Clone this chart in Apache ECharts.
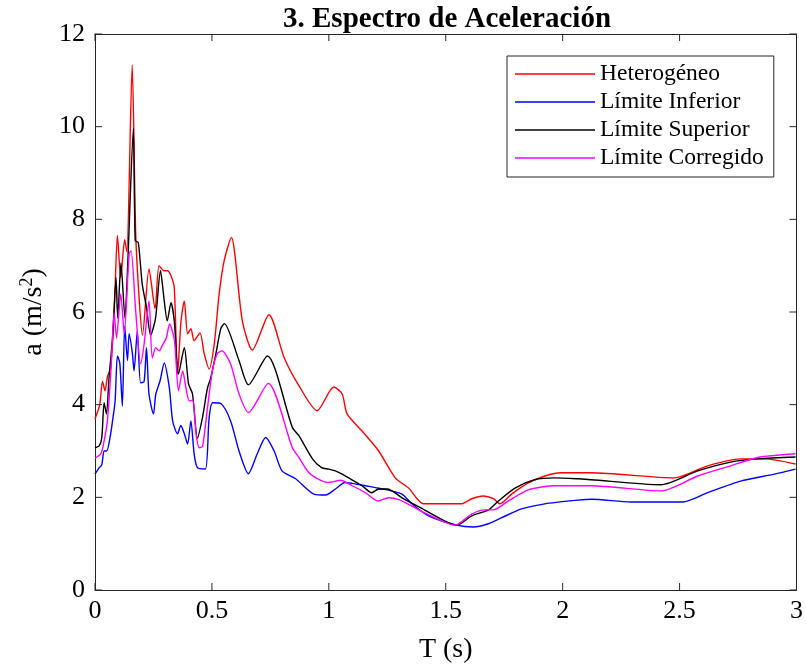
<!DOCTYPE html>
<html>
<head>
<meta charset="utf-8">
<script src="https://cdn.jsdelivr.net/npm/echarts@6/dist/echarts.min.js"></script>
<style>html,body{margin:0;padding:0;background:#fff}#c{width:806px;height:670px}</style>
</head>
<body>
<div id="c"></div>
<script>
var titleText = '3. Espectro de Aceleración';
var seriesNames = ['Heterogéneo', 'Límite Inferior', 'Límite Superior', 'Límite Corregido'];
var xTicks = [0, 0.5, 1, 1.5, 2, 2.5, 3];
var yTicks = [0, 2, 4, 6, 8, 10, 12];

var redT = [0, 0.02, 0.032, 0.043, 0.053, 0.067, 0.082, 0.096, 0.11, 0.127, 0.136, 0.159, 0.174, 0.19, 0.203, 0.231, 0.257, 0.274, 0.295, 0.31, 0.325, 0.339, 0.353, 0.368, 0.382, 0.396, 0.41, 0.424, 0.449, 0.467, 0.488, 0.51, 0.531, 0.552, 0.583, 0.63, 0.673, 0.744, 0.81, 0.872, 0.95, 1.021, 1.057, 1.078, 1.142, 1.213, 1.284, 1.341, 1.405, 1.498, 1.568, 1.611, 1.661, 1.704, 1.732, 1.782, 1.853, 1.924, 1.994, 2.122, 2.478, 2.62, 2.761, 2.862, 2.996];
var redA = [3.69, 4.0, 4.5, 4.3, 4.6, 4.8, 5.96, 7.65, 6.74, 7.56, 7.3, 11.33, 7.7, 6.2, 5.5, 6.93, 6.07, 7.0, 6.89, 6.89, 6.78, 6.52, 4.66, 5.81, 6.24, 5.53, 5.64, 5.38, 5.55, 5.1, 4.77, 5.31, 6.39, 7.1, 7.61, 5.81, 5.18, 5.94, 5.0, 4.41, 3.87, 4.38, 4.23, 3.8, 3.43, 3.0, 2.42, 2.2, 1.86, 1.86, 1.86, 1.97, 2.03, 1.97, 1.86, 2.07, 2.31, 2.46, 2.53, 2.53, 2.42, 2.68, 2.83, 2.83, 2.72];

var blueT = [0, 0.018, 0.029, 0.039, 0.05, 0.064, 0.075, 0.086, 0.096, 0.106, 0.117, 0.127, 0.139, 0.146, 0.16, 0.167, 0.181, 0.195, 0.21, 0.22, 0.231, 0.25, 0.26, 0.278, 0.296, 0.318, 0.332, 0.353, 0.367, 0.382, 0.396, 0.41, 0.424, 0.438, 0.472, 0.488, 0.503, 0.539, 0.58, 0.616, 0.656, 0.694, 0.73, 0.766, 0.8, 0.858, 0.936, 0.986, 1.028, 1.07, 1.1, 1.156, 1.2, 1.25, 1.313, 1.355, 1.426, 1.547, 1.618, 1.682, 1.739, 1.824, 1.924, 2.066, 2.122, 2.293, 2.514, 2.62, 2.761, 2.905, 2.996];
var blueA = [2.5, 2.64, 2.7, 3.0, 3.0, 3.28, 3.65, 4.08, 5.05, 4.9, 3.97, 5.7, 4.95, 5.53, 5.1, 4.73, 5.59, 4.47, 4.5, 5.23, 4.23, 3.8, 4.23, 4.51, 4.9, 4.36, 3.65, 3.37, 3.55, 3.37, 3.15, 3.65, 2.94, 2.64, 2.61, 3.71, 4.04, 4.02, 3.65, 3.0, 2.51, 2.94, 3.29, 3.0, 2.57, 2.4, 2.07, 2.05, 2.18, 2.32, 2.3, 2.25, 2.21, 2.16, 2.07, 1.86, 1.6, 1.4, 1.36, 1.43, 1.56, 1.75, 1.86, 1.94, 1.96, 1.9, 1.9, 2.1, 2.35, 2.5, 2.61];

var blackT = [0, 0.018, 0.029, 0.039, 0.049, 0.06, 0.075, 0.09, 0.097, 0.111, 0.128, 0.14, 0.164, 0.172, 0.185, 0.202, 0.22, 0.238, 0.259, 0.28, 0.295, 0.309, 0.325, 0.339, 0.357, 0.382, 0.4, 0.417, 0.438, 0.459, 0.481, 0.495, 0.517, 0.538, 0.553, 0.616, 0.656, 0.737, 0.844, 0.872, 0.93, 0.969, 1.0, 1.028, 1.057, 1.085, 1.142, 1.184, 1.213, 1.25, 1.313, 1.412, 1.48, 1.547, 1.611, 1.683, 1.725, 1.796, 1.88, 1.966, 2.066, 2.122, 2.42, 2.578, 2.718, 2.834, 2.996];
var blackA = [3.07, 3.11, 3.28, 4.04, 3.8, 4.58, 5.44, 6.74, 5.87, 7.06, 5.87, 7.04, 9.96, 7.54, 7.5, 6.6, 6.1, 5.5, 5.87, 6.89, 6.29, 5.81, 6.2, 5.81, 4.66, 5.23, 4.45, 4.23, 3.28, 3.71, 4.36, 4.58, 5.1, 5.64, 5.75, 4.95, 4.43, 5.05, 3.51, 3.33, 2.83, 2.64, 2.61, 2.57, 2.5, 2.42, 2.25, 2.1, 2.18, 2.18, 1.99, 1.72, 1.53, 1.4, 1.6, 1.73, 1.92, 2.2, 2.38, 2.42, 2.4, 2.38, 2.27, 2.57, 2.76, 2.83, 2.87];

var magT = [0, 0.025, 0.039, 0.053, 0.068, 0.082, 0.092, 0.11, 0.125, 0.146, 0.154, 0.174, 0.195, 0.21, 0.231, 0.245, 0.26, 0.274, 0.29, 0.305, 0.319, 0.34, 0.357, 0.375, 0.389, 0.403, 0.418, 0.432, 0.446, 0.46, 0.481, 0.502, 0.523, 0.543, 0.58, 0.616, 0.656, 0.741, 0.844, 0.872, 0.915, 0.957, 1.0, 1.05, 1.1, 1.156, 1.21, 1.256, 1.3, 1.355, 1.412, 1.54, 1.611, 1.667, 1.703, 1.767, 1.853, 1.967, 2.066, 2.122, 2.42, 2.578, 2.718, 2.834, 2.996];
var magA = [2.85, 2.94, 3.22, 3.65, 4.73, 5.98, 5.44, 6.39, 5.53, 7.26, 7.32, 6.03, 4.88, 5.31, 6.24, 5.01, 5.23, 5.16, 5.3, 5.44, 5.74, 5.38, 4.3, 4.73, 4.36, 4.08, 4.1, 3.37, 3.07, 3.1, 3.93, 4.73, 5.1, 5.16, 4.88, 4.23, 3.83, 4.46, 3.07, 2.86, 2.53, 2.39, 2.32, 2.37, 2.25, 2.1, 1.92, 1.99, 1.95, 1.81, 1.66, 1.4, 1.64, 1.73, 1.73, 1.92, 2.16, 2.25, 2.25, 2.25, 2.14, 2.46, 2.68, 2.86, 2.94];

function pairs(t, a) { return t.map(function (v, i) { return [v, a[i]]; }); }

var FONT = '"Liberation Serif", "Times New Roman", serif';
var AX = '#262626';
var colors = ['#ff0000', '#0000ff', '#000000', '#ff00ff'];
var dataSets = [pairs(redT, redA), pairs(blueT, blueA), pairs(blackT, blackA), pairs(magT, magA)];
var xMin = xTicks[0], xMax = xTicks[xTicks.length - 1];
var yMin = yTicks[0], yMax = yTicks[yTicks.length - 1];

function tickRender(isX) {
  return function (params, api) {
    var L = 7, st = { stroke: AX, lineWidth: 1 }, ch = [];
    if (isX) {
      var v = api.value(0);
      var b = api.coord([v, yMin]), t = api.coord([v, yMax]);
      ch.push({ type: 'line', shape: { x1: b[0], y1: b[1], x2: b[0], y2: b[1] - L }, style: st });
      ch.push({ type: 'line', shape: { x1: t[0], y1: t[1], x2: t[0], y2: t[1] + L }, style: st });
    } else {
      var w = api.value(1);
      var l = api.coord([xMin, w]), r = api.coord([xMax, w]);
      ch.push({ type: 'line', shape: { x1: l[0], y1: l[1], x2: l[0] + L, y2: l[1] }, style: st });
      ch.push({ type: 'line', shape: { x1: r[0], y1: r[1], x2: r[0] - L, y2: r[1] }, style: st });
    }
    return { type: 'group', children: ch };
  };
}

var chart = echarts.init(document.getElementById('c'));
function axLine() { return { show: true, onZero: false, lineStyle: { color: AX, width: 1 } }; }
var lineSeries = seriesNames.map(function (n, i) {
  return {
    name: n, type: 'line', data: dataSets[i], symbol: 'none', smooth: 0.25,
    lineStyle: { color: colors[i], width: 1.4 }, itemStyle: { color: colors[i] },
    z: [3, 2, 4, 5][i]
  };
});
var tickSeries = [
  { type: 'custom', silent: true, clip: false, z: 10, renderItem: tickRender(true),
    encode: { x: 0, y: 1 }, data: xTicks.map(function (v) { return [v, yMin]; }) },
  { type: 'custom', silent: true, clip: false, z: 10, renderItem: tickRender(false),
    encode: { x: 0, y: 1 }, data: yTicks.map(function (v) { return [xMin, v]; }) }
];
chart.setOption({
  backgroundColor: '#ffffff',
  animation: false,
  title: {
    text: titleText, left: 278, top: 0,
    textStyle: { fontFamily: FONT, fontSize: 29, fontWeight: 'bold', color: '#000' }
  },
  grid: { left: 95, right: 8, top: 34, bottom: 80 },
  legend: {
    orient: 'vertical', left: 507, top: 56,
    data: seriesNames.map(function (n) { return { name: n, icon: 'rect' }; }),
    itemWidth: 80, itemHeight: 1.6, itemGap: 4,
    padding: [6, 10, 7, 8],
    borderColor: AX, borderWidth: 1, backgroundColor: '#fff',
    textStyle: { fontFamily: FONT, fontSize: 23.5, color: '#000', lineHeight: 24 }
  },
  xAxis: [
    {
      type: 'value', min: xMin, max: xMax, interval: 0.5,
      name: 'T (s)', nameLocation: 'middle', nameGap: 46,
      nameTextStyle: { fontFamily: FONT, fontSize: 28, color: '#000' },
      axisLine: axLine(), axisTick: { show: false }, splitLine: { show: false },
      axisLabel: { fontFamily: FONT, fontSize: 26, color: '#000', margin: 8,
        formatter: function (v) { return xTicks.indexOf(v) >= 0 ? String(v) : ''; } }
    },
    {
      type: 'value', min: xMin, max: xMax, interval: 0.5, position: 'top',
      axisLine: axLine(), axisTick: { show: false }, splitLine: { show: false },
      axisLabel: { show: false }
    }
  ],
  yAxis: [
    {
      type: 'value', min: yMin, max: yMax, interval: 2,
      name: 'a (m/s{sup|2})', nameLocation: 'middle', nameGap: 31, nameRotate: 90,
      nameTextStyle: { fontFamily: FONT, fontSize: 28, color: '#000',
        rich: { sup: { fontFamily: FONT, fontSize: 18, color: '#000', verticalAlign: 'top', padding: [0, 0, 14, 0] } } },
      axisLine: axLine(), axisTick: { show: false }, splitLine: { show: false },
      axisLabel: { fontFamily: FONT, fontSize: 26, color: '#000', margin: 10,
        formatter: function (v) { return yTicks.indexOf(v) >= 0 ? String(v) : ''; } }
    },
    {
      type: 'value', min: yMin, max: yMax, interval: 2, position: 'right',
      axisLine: axLine(), axisTick: { show: false }, splitLine: { show: false },
      axisLabel: { show: false }
    }
  ],
  series: lineSeries.concat(tickSeries)
});
</script>
</body>
</html>
